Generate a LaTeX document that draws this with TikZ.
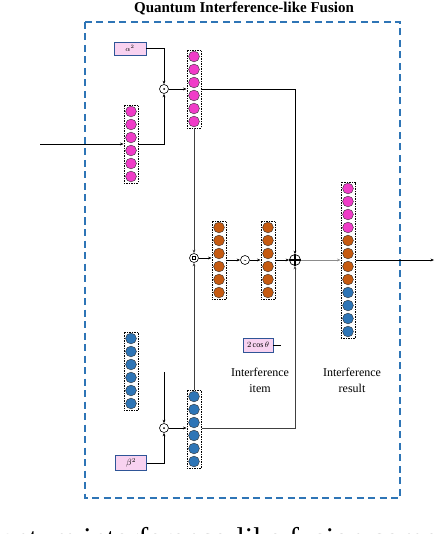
\documentclass[tikz,border=0pt]{standalone}
\usepackage{fontspec}
\setmainfont{Liberation Serif}
\usetikzlibrary{arrows.meta}
\definecolor{pk}{RGB}{240,60,200}
\definecolor{og}{RGB}{197,90,17}
\definecolor{bl}{RGB}{46,117,182}
\definecolor{frame}{RGB}{46,117,182}
\definecolor{lblfill}{RGB}{248,210,240}
\definecolor{lblborder}{RGB}{47,85,151}
\tikzset{
  colbox/.style={draw, dash pattern=on 1.5pt off 1pt, line width=0.5pt, minimum width=14.5pt, inner sep=0pt},
  dotc/.style={circle, draw=black!80, line width=0.4pt, minimum size=10.8pt, inner sep=0pt},
  op/.style={circle, draw, fill=white, minimum size=9pt, inner sep=0pt, line width=0.6pt},
  lbl/.style={draw=lblborder, fill=lblfill, line width=0.8pt, inner sep=0pt},
  arr/.style={-{Stealth[length=3.5pt,width=2.8pt]}, line width=0.6pt},
  ln/.style={line width=0.6pt},
  txt/.style={align=center, font=\fontsize{12}{16}\selectfont},
}
\newcommand\dcol[5]{%
  \node[colbox, minimum height={13*#4}] (#1) at (#2,#3) {};
  \foreach \i in {1,...,#4} \node[dotc, fill=#5] (#1-\i) at (#2, {#3-6.5*(#4+1)+13*\i}) {};
}
\begin{document}
\begin{tikzpicture}[x=1pt,y=-1pt]
\useasboundingbox (0,0) rectangle (436,534);
% title and frame
\node[font=\bfseries\fontsize{15}{18}\selectfont] (title) at (244,8) {Quantum Interference-like Fusion};
\draw[frame, line width=1.3pt, dash pattern=on 7pt off 4.5pt] (85,22) rectangle (400,498);
% columns
\dcol{p1}{131}{144}{6}{pk}
\dcol{p2}{194}{89}{6}{pk}
\dcol{o1}{219}{260}{6}{og}
\dcol{o2}{268}{260}{6}{og}
\dcol{b1}{131}{371}{6}{bl}
\dcol{b2}{194}{429}{6}{bl}
\node[colbox, minimum height=156] (res) at (348,260) {};
\foreach \i in {1,...,4} \node[dotc, fill=pk] (res-\i) at (348,{175.5+13*\i}) {};
\foreach \i in {5,...,8} \node[dotc, fill=og] (res-\i) at (348,{175.5+13*\i}) {};
\foreach \i in {9,...,12} \node[dotc, fill=bl] (res-\i) at (348,{175.5+13*\i}) {};
% labels
\node[lbl, minimum width=32pt, minimum height=13pt, font=\fontsize{7}{8}\selectfont] (a2) at (130,48.5) {$\alpha^2$};
\node[lbl, minimum width=31pt, minimum height=15pt, font=\fontsize{9}{10}\selectfont] (bb) at (131,463) {$\beta^2$};
\node[lbl, minimum width=30pt, minimum height=14pt, font=\fontsize{8}{9}\selectfont] (cb) at (258,345) {$2\cos\theta$};
\coordinate (cbe) at (281,345);
\node[txt] (itm) at (260,380) {Interference\\item};
\node[txt] (rsl) at (352,380) {Interference\\result};
% operators
\node[op] (m1) at (164,89) {};
\fill (m1.center) circle (1);
\node[op] (m2) at (194,258) {};
\draw[line width=0.5pt] ([shift={(-1.6,-1.6)}]m2.center) rectangle ([shift={(1.6,1.6)}]m2.center);
\node[op] (sub) at (245,260) {};
\draw[line width=0.5pt] ([shift={(-1.2,0)}]sub.center) -- ([shift={(1.2,0.8)}]sub.center);
\node[op, minimum size=11pt, line width=0.7pt] (plus) at (295,260) {};
\draw[line width=1.3pt] (plus.north) -- (plus.south) (plus.west) -- (plus.east);
\node[op] (m3) at (164,428) {};
\fill (m3.center) circle (1);
% coordinates
\coordinate (in) at (40,144);
\coordinate (out) at (434,260);
\coordinate (s3) at (164,372);
% connectors
\draw[arr] (in) -- (p1.west |- in);
\draw[arr] (a2.east) -| (m1.north);
\draw[arr] (p1.east) -| (m1.south);
\draw[arr] (m1.east) -- (p2.west |- m1);
\draw[arr] (p2.east) -| (plus.north);
\draw[arr, black!75] (p2.south) -- (m2.north);
\draw[arr, black!75] (b2.north) -- (m2.south);
\draw[arr] (m2.east) -- (o1.west |- m2);
\draw[arr] (o1.east |- sub) -- (sub.west);
\draw[arr] (sub.east) -- (o2.west |- sub);
\draw[arr] (o2.east |- plus) -- (plus.west);
\draw[arr, black!45] (plus.east) -- (res.west |- plus);
\draw[arr] (res.east |- plus) -- (out);
\draw[ln] (cb.east) -- (cbe);
\draw[arr] (s3) -- (m3.north);
\draw[arr] (bb.east) -| (m3.south);
\draw[arr] (m3.east) -- (b2.west |- m3);
\draw[arr, black!75] (b2.east |- m3) -| (plus.south);
% cut-off caption (cropped by the page edge, as in the reference)
\node[anchor=base west, font=\fontsize{30}{30}\selectfont, inner sep=0pt] (cap) at (-36,548) {Quantum interference-like fusion component};
\end{tikzpicture}
\end{document}
